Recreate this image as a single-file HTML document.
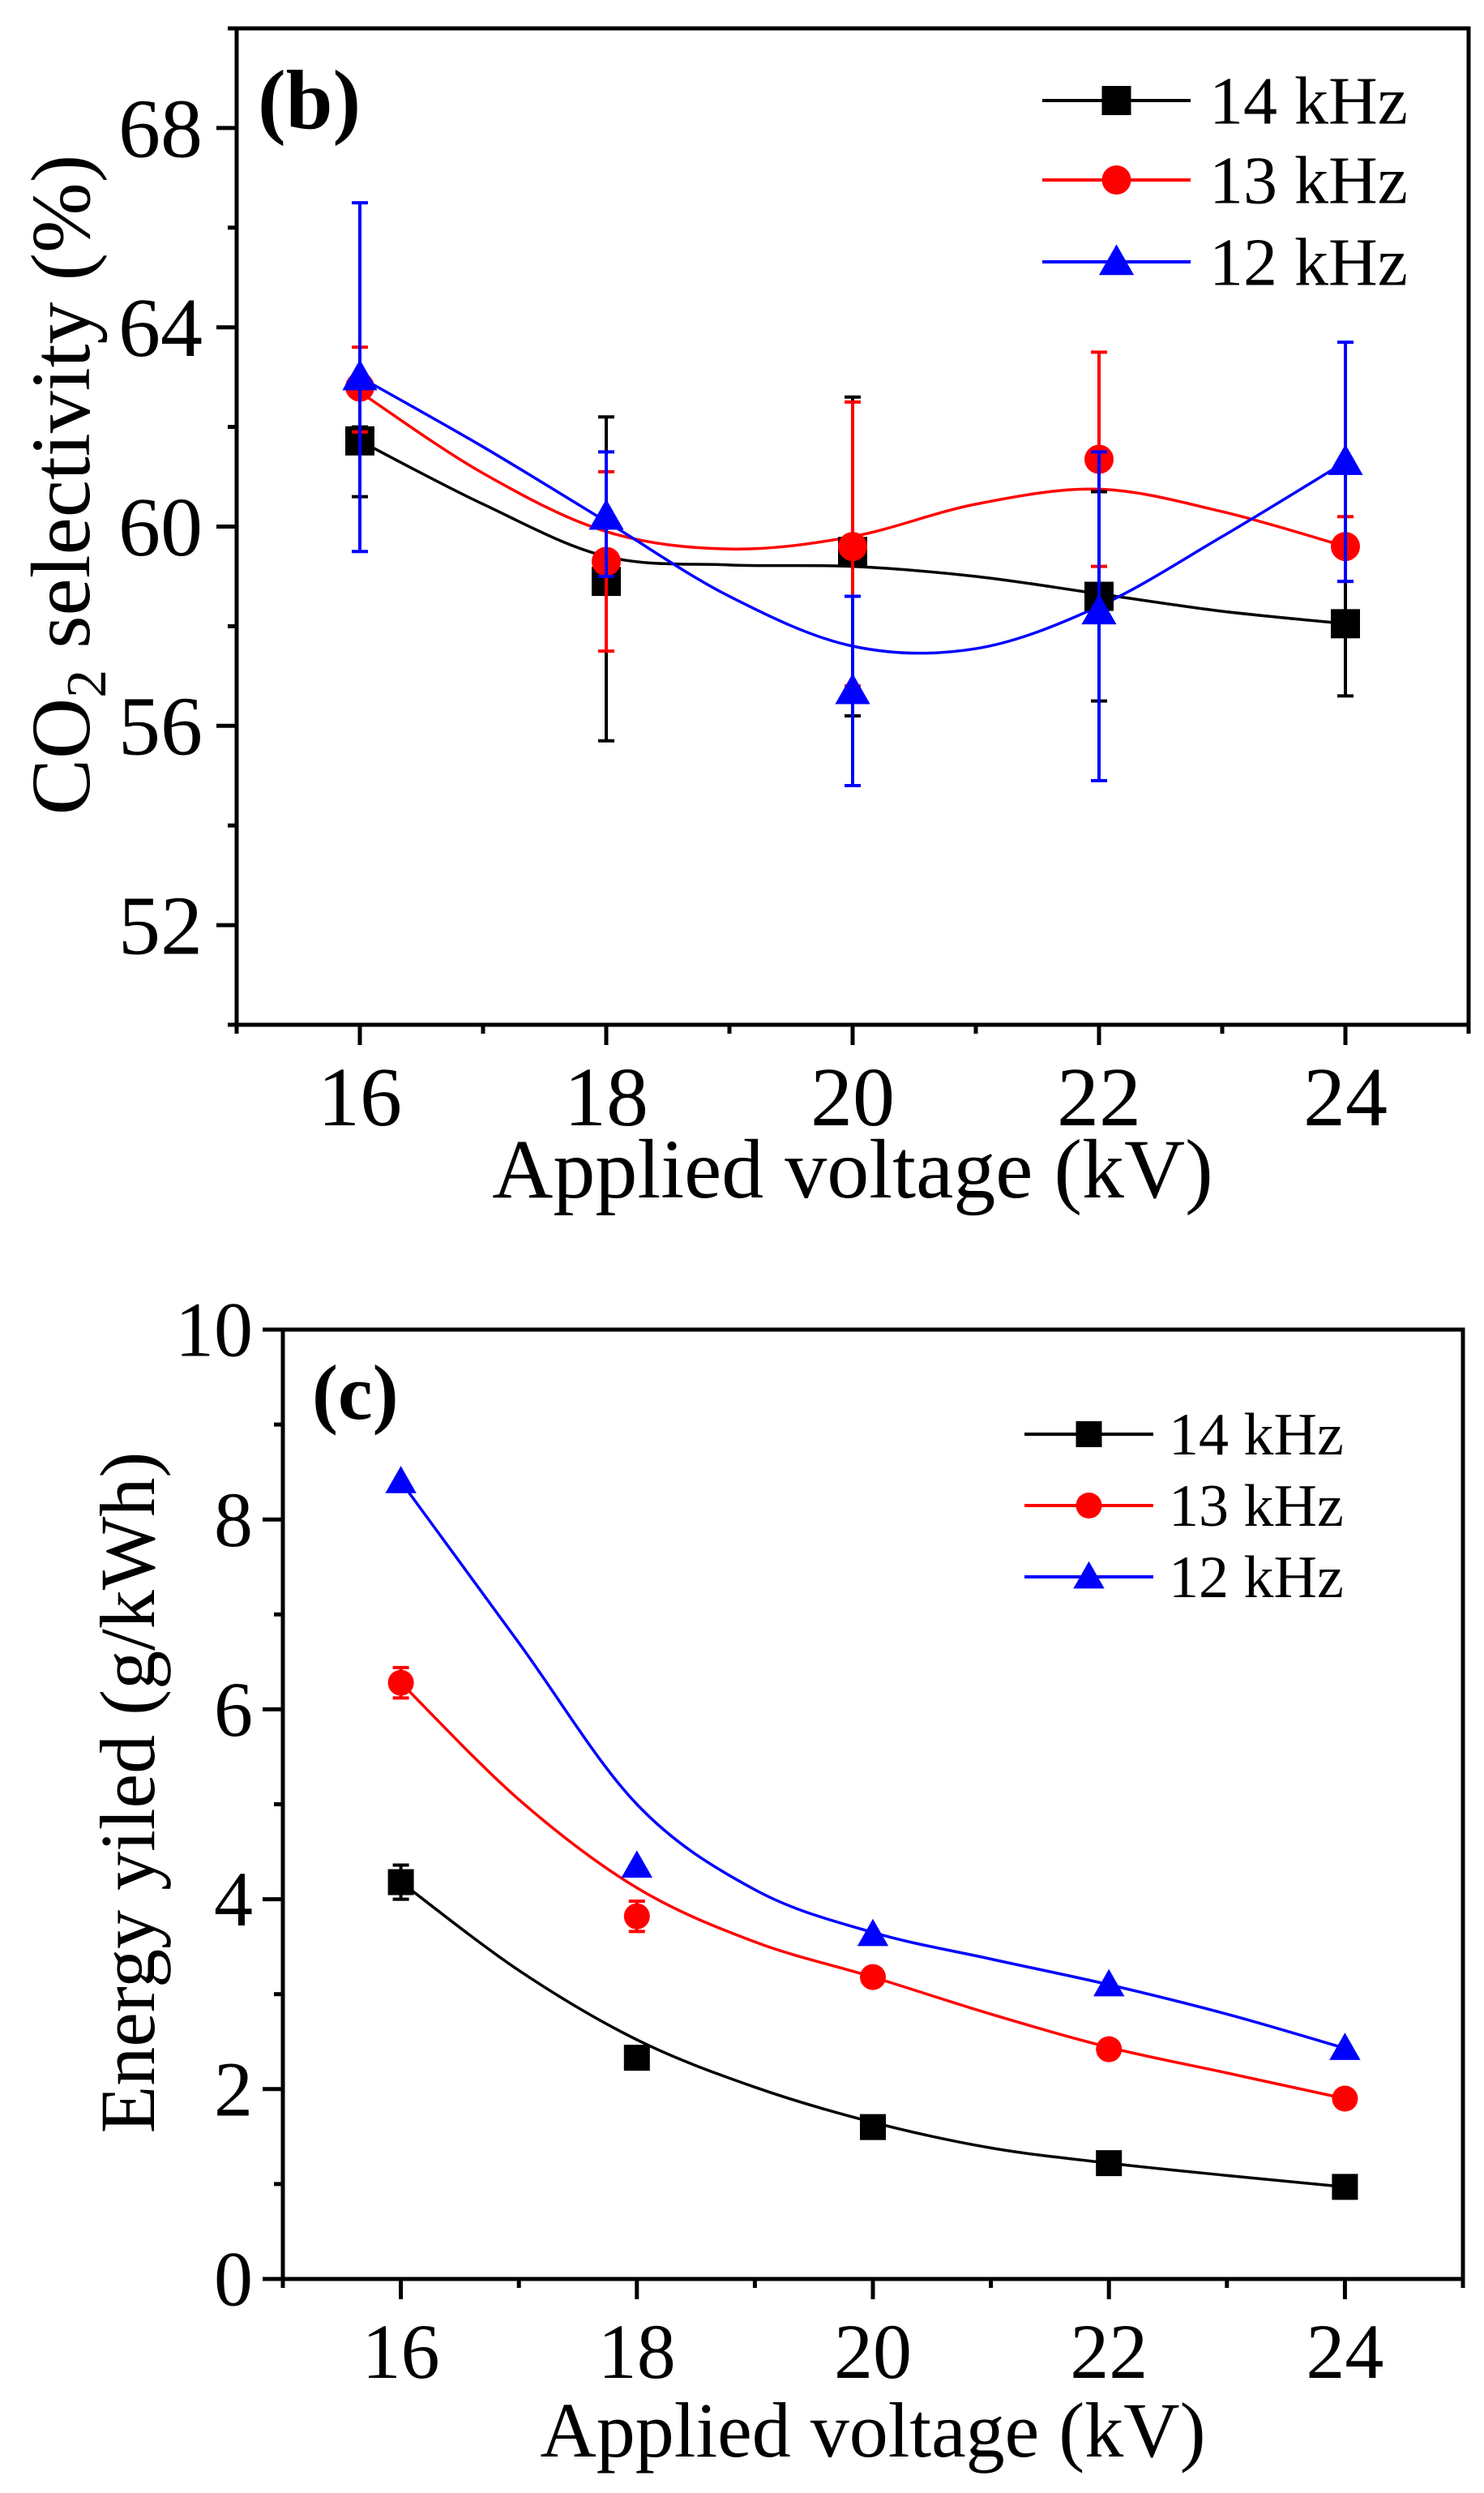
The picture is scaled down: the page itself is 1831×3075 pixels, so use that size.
<!DOCTYPE html>
<html><head><meta charset="utf-8"><style>
html,body{margin:0;padding:0;background:#fff}
svg{display:block}
text{font-family:"Liberation Serif",serif;fill:#000}
</style></head><body>
<svg id="s" width="1831" height="3075" viewBox="0 0 1831 3075" xmlns="http://www.w3.org/2000/svg"></svg>
<script>
const S=document.getElementById('s');let h='';
function cr(pts){let d='M'+pts[0][0]+','+pts[0][1];for(let i=0;i<pts.length-1;i++){const p0=pts[i-1]||pts[i],p1=pts[i],p2=pts[i+1],p3=pts[i+2]||p2;
d+=` C${p1[0]+(p2[0]-p0[0])/6},${p1[1]+(p2[1]-p0[1])/6} ${p2[0]-(p3[0]-p1[0])/6},${p2[1]-(p3[1]-p1[1])/6} ${p2[0]},${p2[1]}`;}return d;}
function mk(t,x,y,c,s){if(t==0)return `<rect x="${x-s/2}" y="${y-s/2}" width="${s}" height="${s}" fill="${c}"/>`;
if(t==1)return `<circle cx="${x}" cy="${y}" r="${s/2}" fill="${c}"/>`;
return `<polygon points="${x},${y-s*0.6} ${x-s*0.6},${y+s*0.45} ${x+s*0.6},${y+s*0.45}" fill="${c}"/>`;}
const C=['#000','#f00','#00f'];
function plot(o){
 const X=v=>o.x0+(v-o.xa)*(o.x1-o.x0)/(o.xb-o.xa), Y=v=>o.y0-(v-o.ya)*(o.y0-o.y1)/(o.yb-o.ya);
 o.series.forEach((s,i)=>{
  h+=`<path d="${cr(s.curve.map(p=>[X(p[0]),Y(p[1])]))}" fill="none" stroke="${C[i]}" stroke-width="3.5"/>`;
 });
 o.series.forEach((s,i)=>{
  s.pts.forEach(p=>{const x=X(p[0]);if(p[2]!=null){h+=`<line x1="${x}" x2="${x}" y1="${Y(p[2])}" y2="${Y(p[3])}" stroke="${C[i]}" stroke-width="4"/>`;
   [p[2],p[3]].forEach(e=>h+=`<line x1="${x-10}" x2="${x+10}" y1="${Y(e)}" y2="${Y(e)}" stroke="${C[i]}" stroke-width="4"/>`);}
   h+=mk(i,x,Y(p[1]),C[i],o.ms);});
 });
 h+=`<rect x="${o.x0}" y="${o.y1}" width="${o.x1-o.x0}" height="${o.y0-o.y1}" fill="none" stroke="#000" stroke-width="5"/>`;
 for(let v=o.xa;v<=o.xb;v++){const x=X(v),maj=v%2==0;h+=`<line x1="${x}" x2="${x}" y1="${o.y0}" y2="${o.y0+(maj?25:11)}" stroke="#000" stroke-width="5"/>`;
  if(maj&&v>o.xa&&v<o.xb)h+=`<text x="${x}" y="${o.y0+o.xlab}" font-size="${o.fs}" text-anchor="middle">${v}</text>`;}
 for(let v=o.ya;v<=o.yb;v+=o.ystep/2){const y=Y(v),maj=Math.abs((v-o.ya-o.yoff)/o.ystep-Math.round((v-o.ya-o.yoff)/o.ystep))<1e-6;
  h+=`<line x1="${o.x0}" x2="${o.x0-(maj?25:11)}" y1="${y}" y2="${y}" stroke="#000" stroke-width="5"/>`;
  if(maj&&(o.yall||(v>o.ya&&v<o.yb)))h+=`<text x="${o.ylx}" y="${y+o.fs*0.34}" font-size="${o.fs}" text-anchor="end">${v}</text>`;}
 h+=`<text x="${(o.x0+o.x1)/2}" y="${o.tby}" font-size="${o.fs}" text-anchor="middle">Applied voltage (kV)</text>`;
 h+=`<text transform="translate(${o.ytx},${o.tyc}) rotate(-90)" font-size="${o.fs}" text-anchor="middle">${o.ytitle}</text>`;
 h+=`<text x="${o.px}" y="${o.py}" font-size="${o.pfs}" font-weight="bold">${o.panel}</text>`;
 ['14 kHz','13 kHz','12 kHz'].forEach((t,i)=>{const y=o.lg.y[i];
  h+=`<line x1="${o.lg.l0}" x2="${o.lg.l1}" y1="${y}" y2="${y}" stroke="${C[i]}" stroke-width="4"/>`+mk(i,(o.lg.l0+o.lg.l1)/2,y,C[i],o.ms);
  h+=`<text x="${o.lg.tx}" y="${y+o.lg.fs*0.34}" font-size="${o.lg.fs}">${t}</text>`;});
}
plot({x0:292,x1:1812,xa:15,xb:25,y0:1264,y1:35,ya:50,yb:70,ystep:4,yoff:2,yall:false,fs:104,xlab:124,ylx:250,tby:1477,ytx:110,tyc:598,
 ytitle:'CO<tspan font-size="70" dy="20">2</tspan><tspan dy="-20"> selectivity (%)</tspan>',panel:'(b)',px:318,py:158,pfs:104,ms:36,
 lg:{l0:1286,l1:1469,tx:1492,y:[124,222,323],fs:84},
 series:[
  {pts:[[16,61.72,60.6,62.0],[18,58.9,55.7,62.2],[20,59.5,56.2,62.6],[22,58.6,56.5,60.7],[24,58.05,56.6,59.5]],
   curve:[[16,61.72],[17,60.45],[18,59.4],[19,59.23],[20,59.2],[21,59.0],[22,58.65],[23,58.3],[24,58.05]]},
  {pts:[[16,62.8,61.9,63.6],[18,59.3,57.5,61.1],[20,59.6,56.8,62.5],[22,61.35,59.2,63.5],[24,59.6,58.9,60.2]],
   curve:[[16,62.7],[17,61.07],[18,59.9],[19,59.55],[20,59.8],[21,60.45],[22,60.75],[23,60.3],[24,59.6]]},
  {pts:[[16,63.0,59.5,66.5],[18,60.2,59.0,61.5],[20,56.7,54.8,58.6],[22,58.3,54.9,61.5],[24,61.3,58.9,63.7]],
   curve:[[16,63.0],[17,61.6],[18,60.1],[19,58.6],[20,57.6],[21,57.55],[22,58.4],[23,59.8],[24,61.3]]}
 ]});
plot({x0:349,x1:1805,xa:15,xb:25,y0:2811,y1:1640,ya:0,yb:10,ystep:2,yoff:0,yall:true,fs:96,xlab:122,ylx:312,tby:3030,ytx:190,tyc:2211,
 ytitle:'Energy yiled (g/kWh)',panel:'(c)',px:385,py:1750,pfs:96,ms:32,
 lg:{l0:1264,l1:1423,tx:1442,y:[1769,1857,1945],fs:74},
 series:[
  {pts:[[16,4.18,4.0,4.36],[18,2.33,2.22,2.44],[20,1.6],[22,1.22],[24,0.97]],
   curve:[[16,4.18],[17,3.25],[18,2.52],[19,2.02],[20,1.65],[21,1.38],[22,1.22],[23,1.09],[24,0.97]]},
  {pts:[[16,6.28,6.12,6.44],[18,3.82,3.66,3.98],[20,3.18],[22,2.42],[24,1.9]],
   curve:[[16,6.28],[17,5.05],[18,4.12],[19,3.55],[20,3.18],[21,2.79],[22,2.44],[23,2.17],[24,1.9]]},
  {pts:[[16,8.4],[18,4.35],[20,3.63],[22,3.1],[24,2.43]],
   curve:[[16,8.4],[17,6.7],[18,5.0],[19,4.1],[20,3.65],[21,3.37],[22,3.1],[23,2.79],[24,2.43]]}
 ]});
S.innerHTML=h;
</script>
</body></html>
